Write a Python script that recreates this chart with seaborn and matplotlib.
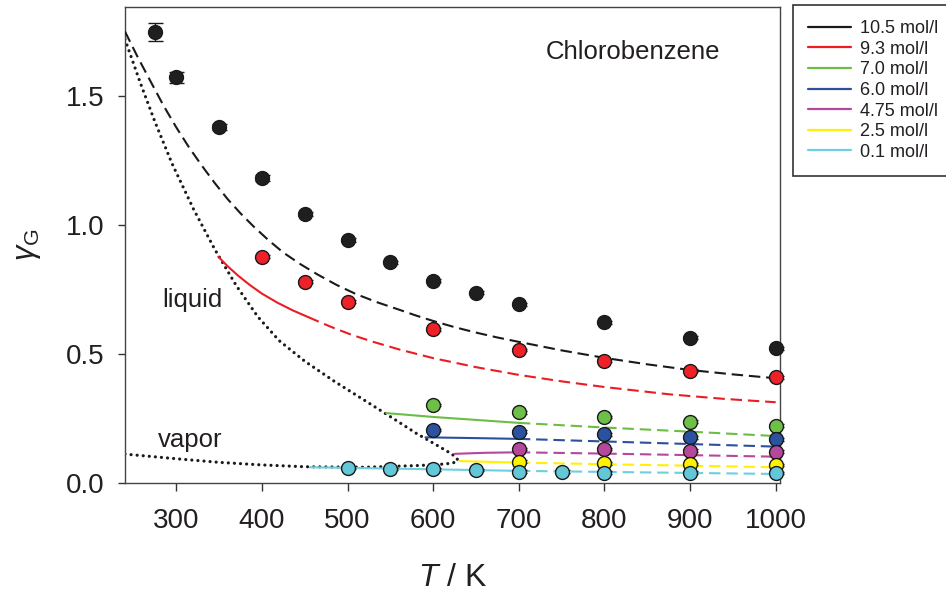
import numpy as np
import pandas as pd
import matplotlib
matplotlib.use("Agg")
import matplotlib.pyplot as plt
from matplotlib.lines import Line2D
import seaborn as sns

# ---------------- data ----------------
labels = ["10.5 mol/l", "9.3 mol/l", "7.0 mol/l", "6.0 mol/l", "4.75 mol/l", "2.5 mol/l", "0.1 mol/l"]
line_colors = ["#1a1a1a", "#ec1c24", "#6cbd45", "#2d4f9e", "#b5489c", "#fff100", "#6ccfdf"]
point_colors = ["#1f1f1f", "#ee2028", "#6dbf47", "#2a52a0", "#b5489c", "#fff200", "#62c7d8"]

# simulation points
T_105 = [275, 300, 350, 400, 450, 500, 550, 600, 650, 700, 800, 900, 1000]
g_105 = [1.749, 1.572, 1.381, 1.182, 1.044, 0.941, 0.855, 0.784, 0.738, 0.692, 0.623, 0.563, 0.522]
e_105 = [0.034, 0.022, 0.012, 0.010, 0.008, 0.007, 0.006, 0.006, 0.006, 0.006, 0.006, 0.006, 0.006]
T_93 = [400, 450, 500, 600, 700, 800, 900, 1000]
g_93 = [0.877, 0.780, 0.703, 0.596, 0.516, 0.474, 0.435, 0.410]
T_70 = [600, 700, 800, 900, 1000]
g_70 = [0.302, 0.274, 0.255, 0.238, 0.222]
T_60 = [600, 700, 800, 900, 1000]
g_60 = [0.205, 0.199, 0.189, 0.177, 0.169]
T_475 = [700, 800, 900, 1000]
g_475 = [0.132, 0.131, 0.125, 0.121]
T_25 = [700, 800, 900, 1000]
g_25 = [0.083, 0.076, 0.074, 0.070]
T_01 = [500, 550, 600, 650, 700, 750, 800, 900, 1000]
g_01 = [0.059, 0.055, 0.053, 0.050, 0.044, 0.044, 0.040, 0.040, 0.038]

# model curves (solid part / dashed part)
Tm_105_d = [240, 255, 270, 285, 300, 315, 330, 345, 360, 375, 390, 408, 425, 445, 465, 487, 510, 535,
            560, 580, 600, 625, 650, 675, 700, 750, 800, 850, 900, 950, 1000]
gm_105_d = [1.750, 1.650, 1.556, 1.463, 1.378, 1.300, 1.229, 1.162, 1.100, 1.045, 0.995, 0.940, 0.893,
            0.848, 0.808, 0.768, 0.732, 0.700, 0.672, 0.649, 0.628, 0.604, 0.583, 0.564, 0.547, 0.514,
            0.485, 0.460, 0.438, 0.421, 0.406]
Tm_93_s = [349, 360, 372, 386, 400, 418, 436, 454]
gm_93_s = [0.877, 0.840, 0.804, 0.767, 0.734, 0.699, 0.669, 0.643]
Tm_93_d = [454, 470, 483, 505, 530, 561, 600, 650, 700, 750, 800, 875, 940, 1000]
gm_93_d = [0.643, 0.620, 0.602, 0.574, 0.547, 0.517, 0.484, 0.449, 0.419, 0.394, 0.372, 0.344, 0.326, 0.313]
Tm_70_s = [545, 600, 700]
gm_70_s = [0.271, 0.256, 0.233]
Tm_70_d = [700, 800, 900, 1000]
gm_70_d = [0.233, 0.215, 0.199, 0.182]
Tm_60_s = [591, 650, 700]
gm_60_s = [0.177, 0.174, 0.171]
Tm_60_d = [700, 800, 900, 1000]
gm_60_d = [0.171, 0.161, 0.151, 0.141]
Tm_475_s = [625, 660, 700]
gm_475_s = [0.113, 0.117, 0.119]
Tm_475_d = [700, 800, 900, 1000]
gm_475_d = [0.119, 0.114, 0.108, 0.102]
Tm_25_s = [631, 700]
gm_25_s = [0.085, 0.079]
Tm_25_d = [700, 800, 900, 1000]
gm_25_d = [0.079, 0.073, 0.067, 0.061]
Tm_01_s = [456, 550, 600, 700]
gm_01_s = [0.061, 0.056, 0.053, 0.047]
Tm_01_d = [700, 800, 900, 1000]
gm_01_d = [0.047, 0.043, 0.039, 0.035]

# coexistence curve (dotted)
T_liq = [240, 258, 275, 295, 320, 345, 370, 395, 420, 450, 485, 520, 550, 580, 605, 622, 631]
g_liq = [1.720, 1.550, 1.400, 1.238, 1.062, 0.905, 0.765, 0.645, 0.552, 0.472, 0.393, 0.320, 0.257, 0.193, 0.145, 0.112, 0.083]
T_vap = [240, 300, 350, 400, 450, 520, 585, 615, 631]
g_vap = [0.112, 0.094, 0.080, 0.070, 0.063, 0.061, 0.068, 0.074, 0.083]

x_ticks = [300, 400, 500, 600, 700, 800, 900, 1000]
y_ticks = [0.0, 0.5, 1.0, 1.5]

# ---------------- style ----------------
sns.set_style("ticks")
plt.rcParams["font.family"] = ["Liberation Sans", "DejaVu Sans"]
plt.rcParams["mathtext.fontset"] = "custom"
plt.rcParams["mathtext.rm"] = "Liberation Sans"
plt.rcParams["mathtext.it"] = "Liberation Sans:italic"
txt_color = "#231f20"

fig = plt.figure(figsize=(9.46, 5.93), dpi=100)
ax = fig.add_axes([0.1321, 0.1855, 0.6924, 0.8027])

dash = (0, (5.5, 2.8))
dot = (0, (0.01, 1.9))

def draw(T, g, color, ls, lw=1.4, **kw):
    df = pd.DataFrame({"T": T, "g": g})
    sns.lineplot(data=df, x="T", y="g", ax=ax, color=color, linestyle=ls, lw=lw,
                 sort=False, estimator=None, legend=False, **kw)

# coexistence curves
for T, g in [(T_liq, g_liq), (T_vap, g_vap)]:
    df = pd.DataFrame({"T": T, "g": g})
    sns.lineplot(data=df, x="T", y="g", ax=ax, color="#1a1a1a", lw=2.3, sort=False,
                 estimator=None, legend=False, linestyle=dot, dash_capstyle="round", zorder=2)

model = [
    (None, None, Tm_105_d, gm_105_d),
    (Tm_93_s, gm_93_s, Tm_93_d, gm_93_d),
    (Tm_70_s, gm_70_s, Tm_70_d, gm_70_d),
    (Tm_60_s, gm_60_s, Tm_60_d, gm_60_d),
    (Tm_475_s, gm_475_s, Tm_475_d, gm_475_d),
    (Tm_25_s, gm_25_s, Tm_25_d, gm_25_d),
    (Tm_01_s, gm_01_s, Tm_01_d, gm_01_d),
]
for (Ts, gs, Td, gd), c in zip(model, line_colors):
    if Ts is not None:
        draw(Ts, gs, c, "-", lw=1.5, zorder=3)
    draw(Td, gd, c, dash, lw=1.5, zorder=3)

points = [(T_105, g_105, e_105), (T_93, g_93, None), (T_70, g_70, None), (T_60, g_60, None),
          (T_475, g_475, None), (T_25, g_25, None), (T_01, g_01, None)]
for (T, g, e), c in zip(points, point_colors):
    err = e if e is not None else [0.005] * len(T)
    eb = ax.errorbar(T, g, yerr=err, fmt="none", ecolor="#1a1a1a", elinewidth=1.0,
                     capsize=5.4, capthick=1.0, zorder=4)
    for artist in eb.lines[1] + eb.lines[2]:
        artist.set_clip_on(False)
    sns.scatterplot(x=T, y=g, ax=ax, color=c, edgecolor="#1a1a1a", linewidth=1.0,
                    s=100, zorder=5, legend=False, clip_on=False)

ax.set_xlim(240, 1005)
ax.set_ylim(0, 1.845)
ax.set_xticks(x_ticks)
ax.set_xticklabels([str(t) for t in x_ticks])
ax.set_yticks(y_ticks)
ax.set_yticklabels([f"{t:.1f}" for t in y_ticks])
ax.tick_params(axis="x", direction="out", length=6, width=1, labelsize=20, pad=12,
               color="#333333", labelcolor=txt_color)
ax.tick_params(axis="y", direction="out", length=5, width=1, labelsize=20, pad=10,
               color="#333333", labelcolor=txt_color)
for sp in ax.spines.values():
    sp.set_visible(True)
    sp.set_linewidth(1.0)
    sp.set_color("#444444")

ax.set_xlabel("$T$ / K", fontsize=23, labelpad=21, color=txt_color)
ax.set_ylabel(r"$\gamma_\mathrm{G}$", fontsize=22, labelpad=16, color=txt_color)

ax.text(731, 1.67, "Chlorobenzene", fontsize=18.5, ha="left", va="center", color=txt_color)
ax.text(284, 0.709, "liquid", fontsize=18.5, ha="left", va="center", color=txt_color)
ax.text(278, 0.167, "vapor", fontsize=18.5, ha="left", va="center", color=txt_color)

handles = [Line2D([0], [0], color=c, lw=1.6) for c in line_colors]
leg = fig.legend(handles, labels, loc="upper left", bbox_to_anchor=(0.838, 0.992),
                 fontsize=13, frameon=True, fancybox=False, shadow=False,
                 labelspacing=0.2, handlelength=2.4, handletextpad=0.45,
                 borderpad=0.85, borderaxespad=0, labelcolor=txt_color)
leg.get_frame().set_edgecolor("#333333")
leg.get_frame().set_linewidth(1.2)
leg.get_frame().set_alpha(1)

fig.savefig("out.png", dpi=100)
